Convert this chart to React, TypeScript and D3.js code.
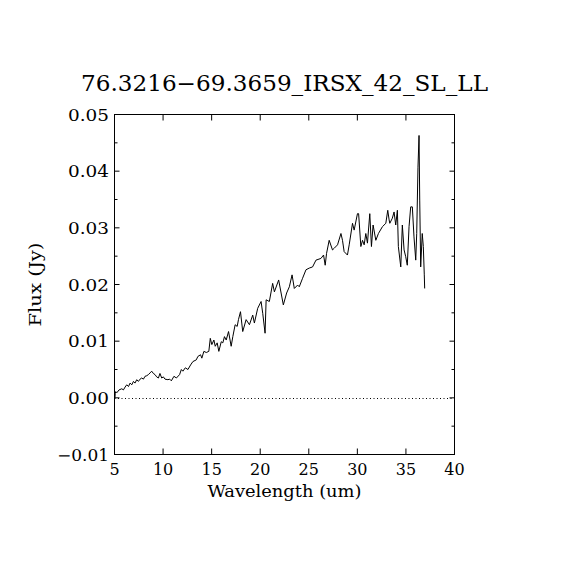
import React from "react";
import * as d3 from "d3";

const title = "76.3216\u221269.3659_IRSX_42_SL_LL";
const xLabel = "Wavelength (um)";
const yLabel = "Flux (Jy)";

const wavelength = [
  5.0, 5.03, 5.08, 5.13, 5.24, 5.47, 5.75, 5.92, 6.09, 6.26, 6.44, 6.6, 6.78, 6.95, 7.11, 7.29, 7.46, 7.63, 7.8, 7.98,
  8.14, 8.32, 8.49, 8.66, 8.83, 9.0, 9.17, 9.34, 9.52, 9.68, 9.86, 10.03, 10.2, 10.5, 10.68, 10.85, 11.12, 11.37, 11.7, 11.88,
  12.04, 12.29, 12.56, 12.83, 13.07, 13.42, 13.58, 13.86, 13.99, 14.2, 14.45, 14.71, 14.86, 15.02, 15.23, 15.37, 15.57, 15.74, 15.99, 16.15,
  16.32, 16.5, 16.74, 17.01, 17.18, 17.42, 17.63, 17.76, 17.97, 18.1, 18.2, 18.55, 18.89, 19.23, 19.4, 19.74, 20.09, 20.26, 20.5, 20.61,
  20.94, 21.28, 21.46, 21.9, 22.15, 22.38, 22.72, 23.0, 23.28, 23.51, 23.85, 24.02, 24.36, 24.71, 25.05, 25.39, 25.74, 26.25, 26.52, 26.69,
  26.83, 27.1, 27.44, 27.62, 27.96, 28.31, 28.47, 28.64, 28.98, 29.16, 29.5, 29.67, 30.01, 30.13, 30.36, 30.53, 30.7, 30.87, 31.04, 31.28,
  31.45, 31.62, 31.9, 32.17, 32.58, 32.93, 33.13, 33.27, 33.34, 33.6, 33.78, 33.95, 34.12, 34.22, 34.47, 34.63, 34.81, 34.98, 35.14, 35.32,
  35.49, 35.66, 35.83, 36.01, 36.11, 36.24, 36.35, 36.42, 36.52, 36.68, 36.79, 36.89, 36.93,
];

const flux = [
  0.0009, 0.0, 0.0008, 0.0011, 0.0009, 0.0014, 0.0016, 0.0014, 0.0019, 0.0023, 0.002, 0.0026, 0.0023, 0.0029, 0.0026, 0.0032, 0.0029, 0.0033, 0.0035, 0.0033,
  0.0038, 0.0039, 0.0041, 0.0044, 0.0047, 0.0043, 0.0041, 0.0037, 0.0035, 0.0043, 0.0035, 0.0037, 0.0033, 0.0032, 0.0033, 0.003, 0.0038, 0.0035, 0.0041, 0.005,
  0.0047, 0.0053, 0.005, 0.0058, 0.0064, 0.0067, 0.0073, 0.0076, 0.007, 0.0082, 0.008, 0.0082, 0.0105, 0.0094, 0.0102, 0.0091, 0.0097, 0.0082, 0.0099, 0.0097,
  0.0108, 0.0102, 0.0117, 0.0091, 0.0108, 0.0129, 0.0126, 0.0138, 0.0152, 0.0132, 0.0117, 0.0138, 0.0129, 0.0146, 0.0132, 0.0158, 0.017, 0.0149, 0.0114, 0.0173,
  0.017, 0.0202, 0.0187, 0.0208, 0.0185, 0.0164, 0.0185, 0.0196, 0.0217, 0.0193, 0.0199, 0.0196, 0.0211, 0.0226, 0.0229, 0.0231, 0.0243, 0.0246, 0.0252, 0.0234,
  0.0255, 0.0278, 0.0261, 0.0264, 0.027, 0.029, 0.0278, 0.0258, 0.0252, 0.027, 0.0308, 0.0296, 0.0325, 0.0325, 0.0267, 0.0278, 0.027, 0.029, 0.0273, 0.0325,
  0.0267, 0.0305, 0.0278, 0.029, 0.0302, 0.0308, 0.0331, 0.0314, 0.0308, 0.0317, 0.0328, 0.0305, 0.0331, 0.0267, 0.0231, 0.0305, 0.0261, 0.0249, 0.0234, 0.0302,
  0.0337, 0.0337, 0.0284, 0.0243, 0.029, 0.0407, 0.0463, 0.0349, 0.0231, 0.029, 0.0267, 0.0217, 0.0193,
];

const xTicks = [5, 10, 15, 20, 25, 30, 35, 40];
const yTicksMajor = [-0.01, 0, 0.01, 0.02, 0.03, 0.04, 0.05];
const yTicksMinor = [-0.005, 0.005, 0.015, 0.025, 0.035, 0.045];

const W = 570;
const H = 570;
const L = 114.5;
const R = 454.5;
const T = 114.5;
const B = 454.5;
const FONT = "'DejaVu Serif', 'Liberation Serif', serif";

const fmtY = (v: number) => (v < 0 ? "\u2212" + Math.abs(v).toFixed(2) : v.toFixed(2));

export default function App() {
  const x = d3.scaleLinear().domain([5, 40]).range([L, R]);
  const y = d3.scaleLinear().domain([-0.01, 0.05]).range([B, T]);
  const pts: [number, number][] = wavelength.map((w, i) => [w, flux[i]]);
  const line = d3
    .line<[number, number]>()
    .x((d) => x(d[0]))
    .y((d) => y(d[1]));

  return (
    <svg
      width={W}
      height={H}
      viewBox={`0 0 ${W} ${H}`}
      style={{ position: "absolute", left: 0, top: 0, background: "#fff" }}
    >
      <rect x={0} y={0} width={W} height={H} fill="#fff" />
      <text
        x={(L + R) / 2}
        y={91}
        textAnchor="middle"
        fontFamily={FONT}
        fontSize={22}
        textLength={407}
        lengthAdjust="spacingAndGlyphs"
        fill="#000"
      >
        {title}
      </text>

      {/* zero dotted line */}
      <line
        x1={L}
        x2={R}
        y1={Math.round(y(0)) + 0.5}
        y2={Math.round(y(0)) + 0.5}
        stroke="#000"
        strokeWidth={1}
        strokeDasharray="1 2.5"
      />

      {/* data */}
      <path d={line(pts) || ""} fill="none" stroke="#000" strokeWidth={1} />

      {/* frame */}
      <rect x={L} y={T} width={R - L} height={B - T} fill="none" stroke="#000" strokeWidth={1} />

      {/* x ticks */}
      {xTicks.map((t) => (
        <g key={"x" + t}>
          <line x1={x(t)} x2={x(t)} y1={B} y2={B - 6} stroke="#000" />
          <line x1={x(t)} x2={x(t)} y1={T} y2={T + 6} stroke="#000" />
          <text x={x(t)} y={475} textAnchor="middle" fontFamily={FONT} fontSize={16} fill="#000">
            {t}
          </text>
        </g>
      ))}

      {/* y ticks */}
      {yTicksMajor.map((t) => (
        <g key={"y" + t}>
          <line x1={L} x2={L + 5} y1={y(t)} y2={y(t)} stroke="#000" />
          <line x1={R} x2={R - 5} y1={y(t)} y2={y(t)} stroke="#000" />
          <text
            x={109}
            y={y(t) + 6}
            textAnchor="end"
            fontFamily={FONT}
            fontSize={16}
            textLength={t < 0 ? 52 : 41}
            lengthAdjust="spacingAndGlyphs"
            fill="#000"
          >
            {fmtY(t)}
          </text>
        </g>
      ))}
      {yTicksMinor.map((t) => (
        <g key={"ym" + t}>
          <line x1={L} x2={L + 3} y1={y(t)} y2={y(t)} stroke="#000" />
          <line x1={R} x2={R - 3} y1={y(t)} y2={y(t)} stroke="#000" />
        </g>
      ))}

      <text
        x={(L + R) / 2}
        y={497}
        textAnchor="middle"
        fontFamily={FONT}
        fontSize={16}
        textLength={154}
        lengthAdjust="spacingAndGlyphs"
        fill="#000"
      >
        {xLabel}
      </text>
      <text
        transform={`translate(41, ${(T + B) / 2}) rotate(-90)`}
        textAnchor="middle"
        fontFamily={FONT}
        fontSize={16}
        textLength={84}
        lengthAdjust="spacingAndGlyphs"
        fill="#000"
      >
        {yLabel}
      </text>
    </svg>
  );
}
